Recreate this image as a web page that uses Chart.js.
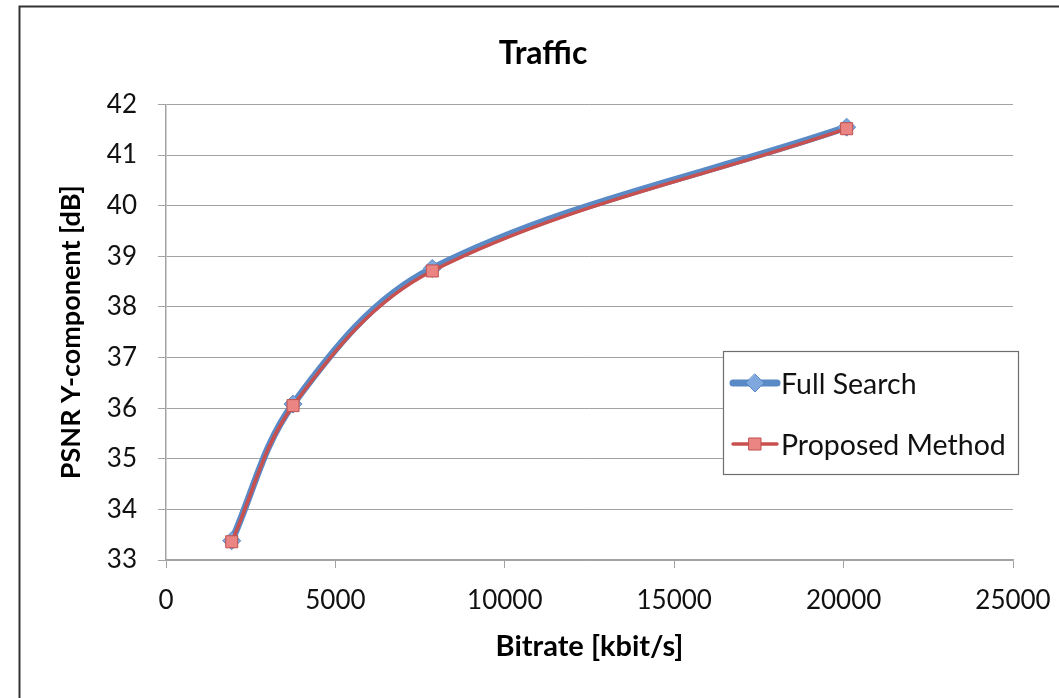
<!DOCTYPE html>
<html>
<head>
<meta charset="utf-8">
<script src="https://cdn.jsdelivr.net/npm/chart.js@4/dist/chart.umd.min.js"></script>
<style>
  html, body { margin: 0; padding: 0; background: #fff; }
  #wrap { width: 1059px; height: 698px; position: relative; }
</style>
</head>
<body>
<div id="wrap"><canvas id="chart"></canvas></div>
<script>
// values
const bitrate = [1940, 3750, 7860, 20090];
const psnrFullSearch = [33.38, 36.08, 38.76, 41.55];
const psnrProposed = [33.36, 36.05, 38.71, 41.52];
const seriesNames = ["Full Search", "Proposed Method"];

const FONT = "Lato, 'Open Sans', sans-serif";
const GRID = "#a3a3a3";
const BLUE = "#5a8ac6";
const RED = "#c8504f";

// outer frame of the chart object, title centred on it
const framePlugin = {
  id: "frame",
  afterLayout(chart) {
    chart.titleBlock.left = 74;
    chart.titleBlock.right = 1012;
  },
  beforeDraw(chart) {
    const ctx = chart.ctx;
    ctx.save();
    ctx.fillStyle = "#fff";
    ctx.fillRect(0, 0, chart.width, chart.height);
    ctx.strokeStyle = "#333";
    ctx.lineWidth = 2;
    ctx.strokeRect(19.5, 6.5, chart.width + 20, chart.height + 20);
    ctx.restore();
  },
};

// Excel style legend box sitting inside the plot
const legendBox = {
  id: "legendBox",
  afterDraw(chart) {
    const ctx = chart.ctx;
    const box = { x: 723.5, y: 351.5, w: 295, h: 123 };
    ctx.save();
    ctx.fillStyle = "#fff";
    ctx.fillRect(box.x, box.y, box.w, box.h);
    ctx.strokeStyle = "#6e6e6e";
    ctx.lineWidth = 1.2;
    ctx.strokeRect(box.x, box.y, box.w, box.h);
    const items = seriesNames.map((n) => chart.data.datasets.find((d) => d.label === n));
    items.forEach((ds, i) => {
      const y = 383 + i * 61;
      ctx.strokeStyle = ds.borderColor;
      ctx.lineWidth = ds.borderWidth;
      ctx.lineCap = "round";
      ctx.beginPath();
      ctx.moveTo(733, y);
      ctx.lineTo(777, y);
      ctx.stroke();
      ctx.fillStyle = ds.pointBackgroundColor;
      ctx.strokeStyle = ds.pointBorderColor;
      ctx.lineWidth = 1;
      ctx.beginPath();
      if (ds.pointStyle === "rectRot") {
        ctx.moveTo(755, y - 9);
        ctx.lineTo(764, y);
        ctx.lineTo(755, y + 9);
        ctx.lineTo(746, y);
        ctx.closePath();
      } else {
        ctx.rect(749, y - 6, 12, 12);
      }
      ctx.fill();
      ctx.stroke();
      ctx.fillStyle = "#111";
      ctx.font = "28.5px " + FONT;
      ctx.textBaseline = "middle";
      ctx.textAlign = "left";
      ctx.fillText(ds.label, 781, y + 2);
    });
    ctx.restore();
  },
};

new Chart(document.getElementById("chart"), {
  type: "scatter",
  data: {
    datasets: [
      {
        label: seriesNames[1],
        data: bitrate.map((b, i) => ({ x: b, y: psnrProposed[i] })),
        showLine: true,
        tension: 0.35,
        borderColor: RED,
        borderWidth: 3.5,
        pointStyle: "rect",
        pointRadius: 8.5,
        pointBackgroundColor: "#ea8584",
        pointBorderColor: "#c0504d",
        pointBorderWidth: 1,
      },
      {
        label: seriesNames[0],
        data: bitrate.map((b, i) => ({ x: b, y: psnrFullSearch[i] })),
        showLine: true,
        tension: 0.35,
        borderColor: BLUE,
        borderWidth: 7,
        pointStyle: "rectRot",
        pointRadius: 9,
        pointBackgroundColor: "#7ea8de",
        pointBorderColor: "#5a8ac6",
        pointBorderWidth: 1,
      },
    ],
  },
  options: {
    animation: false,
    responsive: true,
    maintainAspectRatio: false,
    layout: {
      padding: { left: 0, right: 46, top: 20, bottom: 0 },
    },
    plugins: {
      legend: { display: false },
      tooltip: { enabled: false },
      title: {
        display: true,
        text: "Traffic",
        color: "#000",
        font: { family: FONT, size: 32, weight: "bold" },
        padding: { top: 14, bottom: 32 },
      },
    },
    scales: {
      x: {
        type: "linear",
        min: 0,
        max: 25000,
        ticks: {
          stepSize: 5000,
          color: "#111",
          padding: 17,
          font: { family: FONT, size: 26 },
          callback: (v) => String(v),
        },
        grid: {
          drawOnChartArea: false,
          drawTicks: true,
          tickLength: 8,
          color: GRID,
        },
        border: { color: GRID, width: 1.5 },
        title: {
          display: true,
          text: "Bitrate [kbit/s]",
          color: "#000",
          font: { family: FONT, size: 29, weight: "bold" },
          padding: { top: 0, bottom: 34 },
        },
        afterFit: (s) => {
          s.height = 138;
          s.paddingLeft = 0;
          s.paddingRight = 0;
        },
      },
      y: {
        min: 33,
        max: 42,
        ticks: {
          stepSize: 1,
          color: "#111",
          padding: 21,
          font: { family: FONT, size: 26 },
        },
        grid: {
          color: GRID,
          tickLength: 8,
        },
        border: { color: GRID, width: 1.5 },
        title: {
          display: true,
          text: "PSNR Y-component [dB]",
          color: "#000",
          font: { family: FONT, size: 27, weight: "bold" },
          padding: { top: 55, bottom: 0 },
        },
        afterFit: (s) => { s.width = 166; },
      },
    },
  },
  plugins: [framePlugin, legendBox],
});
</script>
</body>
</html>
